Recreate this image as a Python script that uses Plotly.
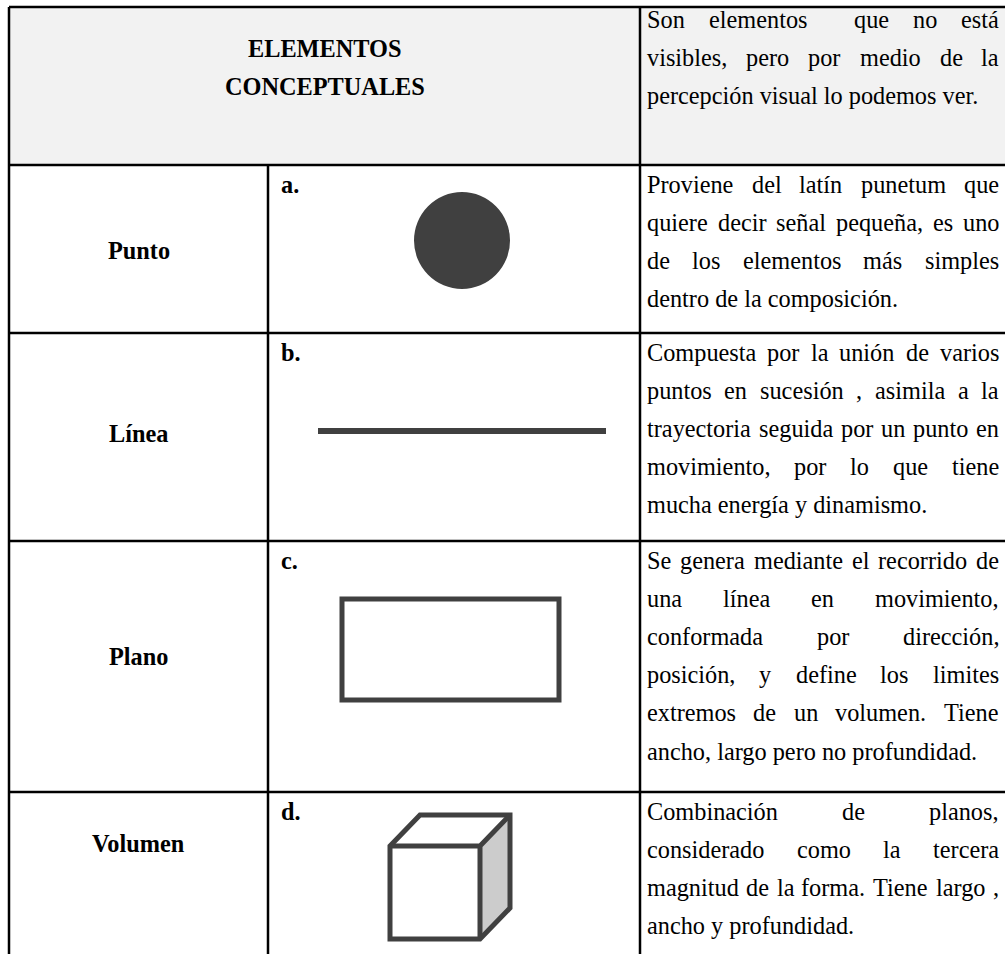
import plotly.graph_objects as go

# ---------------- content ----------------
header_title = ["ELEMENTOS", "CONCEPTUALES"]
header_desc = ["Son elementos  que no está",
               "visibles, pero por medio de la",
               "percepción visual lo podemos ver."]
labels = ["Punto", "Línea", "Plano", "Volumen"]
letters = ["a.", "b.", "c.", "d."]
desc_punto = ["Proviene del latín punetum que",
              "quiere decir señal pequeña, es uno",
              "de los elementos más simples",
              "dentro de la composición."]
desc_linea = ["Compuesta por la unión de varios",
              "puntos en sucesión , asimila a la",
              "trayectoria seguida por un punto en",
              "movimiento, por lo que tiene",
              "mucha energía y dinamismo."]
desc_plano = ["Se genera mediante el recorrido de",
              "una línea en movimiento,",
              "conformada por dirección,",
              "posición, y define los limites",
              "extremos de un volumen. Tiene",
              "ancho, largo pero no profundidad."]
desc_volumen = ["Combinación de planos,",
                "considerado como la tercera",
                "magnitud de la forma. Tiene largo ,",
                "ancho y profundidad."]
descriptions = [desc_punto, desc_linea, desc_plano, desc_volumen]

# ---------------- layout constants ----------------
W, H = 1005, 954
X_LEFT, X_COL2, X_COL3, X_RIGHT = 9, 268, 640, 1005
ROW_Y = [7, 165, 333, 541, 792]
TEXT_L, TEXT_R = 647, 999
LINE_STEP = 38.2
FIRST_OFF = 19
FS = 24.3
FONT = "Liberation Serif, Times New Roman, serif"
INK = "#404040"

# Times New Roman advance widths (1/1000 em) - Liberation Serif is metric compatible
TW = dict(zip("abcdefghijklmnopqrstuvwxyz",
              [444, 500, 444, 500, 444, 333, 500, 500, 278, 278, 500, 278, 778,
               500, 500, 500, 500, 333, 389, 278, 500, 500, 722, 500, 500, 444]))
TW.update(dict(zip("ABCDEFGHIJKLMNOPQRSTUVWXYZ",
                   [722, 667, 667, 722, 611, 556, 722, 722, 333, 389, 722, 611, 889,
                    722, 722, 556, 722, 667, 556, 611, 722, 722, 944, 722, 722, 611])))
TW.update({" ": 250, ",": 250, ".": 250, "á": 444, "é": 444, "í": 278,
           "ó": 500, "ú": 500, "ñ": 500})


def text_w(s, size=FS):
    return sum(TW.get(c, 500) for c in s) * size / 1000.0


annotations = []


def add_text(x, y, s, anchor="left", bold=False, size=FS):
    annotations.append(dict(
        x=x, y=y, xref="x", yref="y", text=("<b>%s</b>" % s) if bold else s,
        showarrow=False, xanchor=anchor, yanchor="middle",
        borderpad=0, borderwidth=0,
        font=dict(family=FONT, size=size, color="#000000")))


def add_paragraph(lines, y0):
    for i, line in enumerate(lines):
        y = y0 + i * LINE_STEP
        if i == len(lines) - 1:
            add_text(TEXT_L, y, line)
            continue
        words = line.split(" ")
        total = sum(text_w(w) for w in words)
        gap = (TEXT_R - TEXT_L - total) / (len(words) - 1)
        x = TEXT_L
        for w in words:
            if w:
                add_text(x, y, w)
            x += text_w(w) + gap


# header
add_text((X_LEFT + X_COL3) / 2, 48, header_title[0], anchor="center", bold=True)
add_text((X_LEFT + X_COL3) / 2, 86, header_title[1], anchor="center", bold=True)
add_paragraph(header_desc, 19)

label_y = [250, 433, 656, 843]
for r in range(4):
    top = ROW_Y[r + 1]
    add_text((X_LEFT + X_COL2) / 2, label_y[r], labels[r], anchor="center", bold=True)
    add_text(281, top + FIRST_OFF, letters[r], bold=True)
    add_paragraph(descriptions[r], top + FIRST_OFF)

# ---------------- shapes ----------------
shapes = []
BL = dict(color="#000000", width=2.5)
shapes.append(dict(type="rect", x0=X_LEFT, x1=X_RIGHT, y0=ROW_Y[0], y1=ROW_Y[1],
                   fillcolor="#f2f2f2", line=dict(width=0), layer="below"))
for y in ROW_Y:
    shapes.append(dict(type="line", x0=X_LEFT, x1=X_RIGHT, y0=y, y1=y, line=BL))
shapes.append(dict(type="line", x0=X_LEFT, x1=X_LEFT, y0=ROW_Y[0], y1=H, line=BL))
shapes.append(dict(type="line", x0=X_COL3, x1=X_COL3, y0=ROW_Y[0], y1=H, line=BL))
shapes.append(dict(type="line", x0=X_COL2, x1=X_COL2, y0=ROW_Y[1], y1=H, line=BL))

# point
shapes.append(dict(type="circle", x0=414, x1=510, y0=192, y1=289,
                   fillcolor=INK, line=dict(width=0)))
# line
shapes.append(dict(type="line", x0=318, x1=606, y0=431, y1=431,
                   line=dict(color=INK, width=6)))
# plane
shapes.append(dict(type="rect", x0=342, x1=559, y0=599, y1=700,
                   fillcolor="rgba(0,0,0,0)", line=dict(color=INK, width=5)))
# volume (cube): faces, then outline
NOL = dict(width=0)
shapes.append(dict(type="path", path="M 480 846 L 510 815 L 510 908 L 480 939 Z",
                   fillcolor="#cccccc", line=NOL))
shapes.append(dict(type="path", path="M 390 846 L 420 815 L 510 815 L 480 846 Z",
                   fillcolor="#ffffff", line=NOL))
CL = dict(color=INK, width=5)
shapes.append(dict(type="path",
                   path="M 390 846 L 420 815 L 510 815 L 510 908 L 480 939 L 390 939 Z",
                   fillcolor="rgba(0,0,0,0)", line=CL))
shapes.append(dict(type="path", path="M 390 846 L 480 846 L 510 815 M 480 846 L 480 939",
                   line=CL))

fig = go.Figure()
fig.update_layout(
    width=W, height=H, autosize=False,
    margin=dict(l=0, r=0, t=0, b=0, pad=0),
    paper_bgcolor="#ffffff", plot_bgcolor="#ffffff",
    xaxis=dict(range=[0, W], visible=False, fixedrange=True),
    yaxis=dict(range=[H, 0], visible=False, fixedrange=True),
    shapes=shapes, annotations=annotations, showlegend=False,
)
fig.write_html("out.html", config={"displayModeBar": False},
               post_script="document.body.style.margin='0';document.body.style.overflow='hidden';")
